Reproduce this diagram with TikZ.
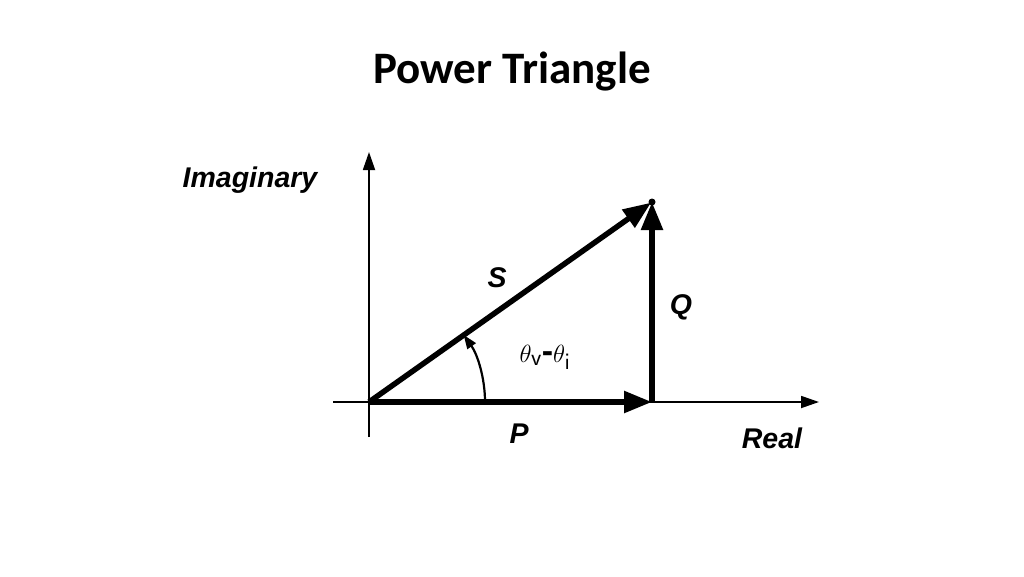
\documentclass[tikz,border=0pt]{standalone}
\usepackage{fontspec}
\setmainfont{Liberation Sans}
\newfontfamily\titlefont{Carlito}
\usetikzlibrary{arrows.meta}
\begin{document}
\begin{tikzpicture}[x=1pt,y=-1pt,
  axis/.style={line width=1.8pt,-{Triangle[length=18pt,width=12pt]}},
  vec/.style={line width=5.5pt,-{Triangle[length=28pt,width=21pt]}},
  lbl/.style={font=\fontsize{28.5}{34}\selectfont\bfseries\itshape,inner sep=0pt},
  ttl/.style={font=\titlefont\fontsize{45}{54}\selectfont\bfseries,inner sep=0pt}]
\useasboundingbox (0,0) rectangle (1024,576);
\fill[white] (0,0) rectangle (1024,576);
\node[ttl] (title) at (512,72) {Power Triangle};
\coordinate (O) at (369,402);
\coordinate (xl) at (333,402);
\coordinate (xr) at (819,402);
\coordinate (yb) at (369,437);
\coordinate (yt) at (369,152);
\coordinate (B) at (652,402);
\coordinate (A) at (652,202);
\draw[axis] (xl) -- (xr);
\draw[axis] (yb) -- (yt);
\draw[vec] (O) -- (B);
\draw[vec] (B) -- (A);
\draw[vec,shorten >=1pt] (O) -- (A);
\fill (A) circle[radius=3.5];
\draw[line width=2.2pt,-{Triangle[length=14pt,width=10pt]}] (485,402) arc[start angle=0,end angle=-35.4,radius=116];
\node[lbl] (im) at (250,180) {Imaginary};
\node[lbl] (re) at (772,438) {Real};
\node[lbl] (S) at (497,278) {S};
\node[lbl] (Q) at (681,307) {Q};
\node[lbl] (P) at (519,434) {P};
\node[inner sep=0pt,font=\fontsize{34}{38}\selectfont] (th) at (545,357) {$\theta_{\mathsf{v}}$\textbf{-}$\theta_{\mathsf{i}}$};
\end{tikzpicture}
\end{document}
